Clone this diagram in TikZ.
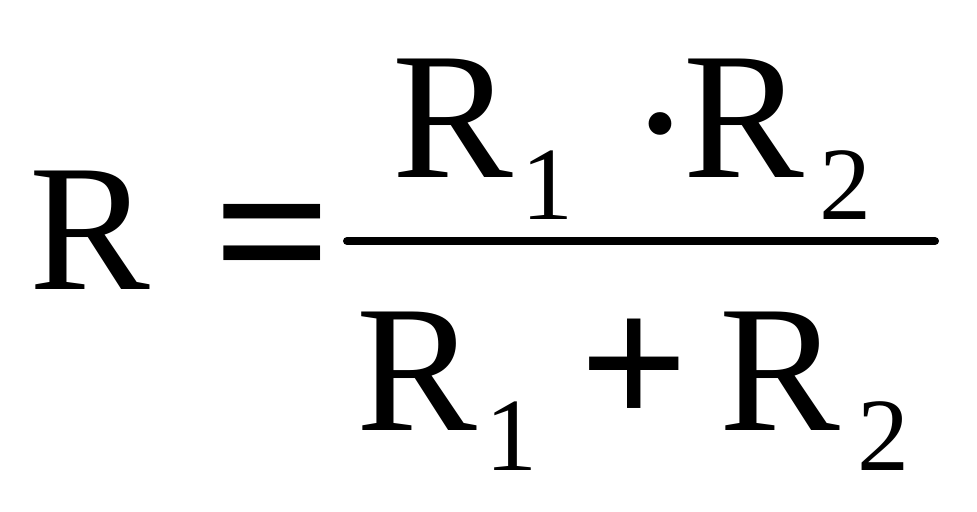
\documentclass[tikz,border=0pt]{standalone}
\usepackage{fontspec}
\setmainfont{Liberation Serif}
\usepackage{tikz}
\usetikzlibrary{positioning}

\begin{document}
\begin{tikzpicture}[
    x=0.5pt, y=-0.5pt,
    letter/.style={inner sep=0pt, anchor=base, font=\fontsize{90.5}{100}\selectfont},
    index/.style={inner sep=0pt, anchor=base, font=\fontsize{52}{60}\selectfont},
    symbol/.style={inner sep=0pt, anchor=base, font=\bfseries\fontsize{#1}{100}\selectfont},
]
\useasboundingbox (0,0) rectangle (977,512);

% Left side
\node[letter] (R) at (90, 290) {R};
\node[symbol=104] (eq) at (273, 302) {=};

% Numerator
\node[letter] (numR1) at (453, 178) {R};
\node[index] (num1) at (547, 220) {1};
\node[letter, font=\fontsize{96}{100}\selectfont] (dot) at (660, 188) {·};
\node[letter] (numR2) at (744, 178) {R};
\node[index] (num2) at (845, 220) {2};

% Fraction bar
\coordinate (barL) at (347, 241);
\coordinate (barR) at (935, 241);
\draw[line width=4pt, line cap=round] (barL) -- (barR);

% Denominator
\node[letter] (denR1) at (417, 430) {R};
\node[index] (den1) at (511, 470) {1};
\node[symbol=96] (plus) at (634, 427) {+};
\node[letter] (denR2) at (780, 430) {R};
\node[index] (den2) at (883, 470) {2};

\end{tikzpicture}
\end{document}
